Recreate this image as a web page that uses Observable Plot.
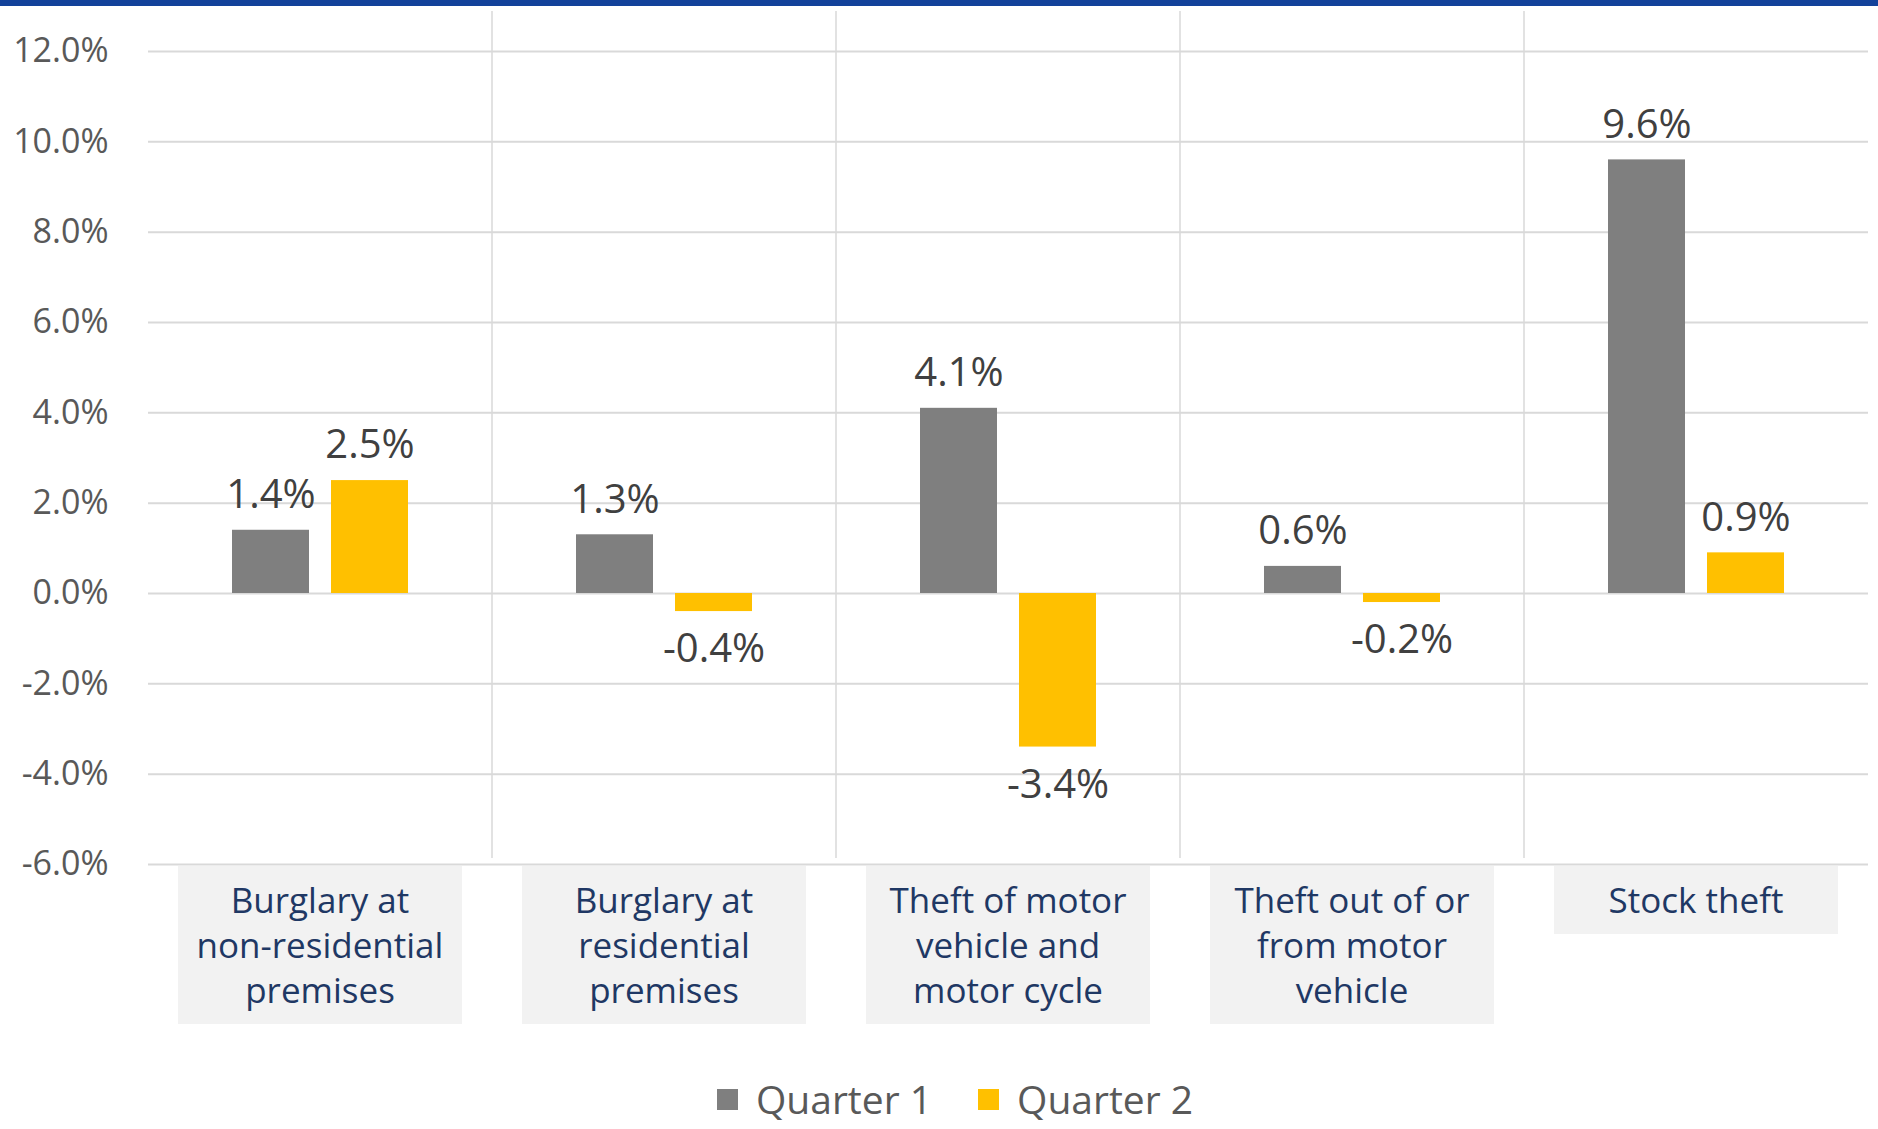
<!DOCTYPE html>
<html>
<head>
<meta charset="utf-8">
<script src="https://cdn.jsdelivr.net/npm/d3@7"></script>
<script src="https://cdn.jsdelivr.net/npm/@observablehq/plot@0.6"></script>
<style>
  html, body { margin: 0; padding: 0; background: #fff; }
  #wrap { position: relative; width: 1878px; height: 1129px; overflow: hidden; font-family: "Segoe UI", "Open Sans", sans-serif; }
  #topbar { position: absolute; left: 0; top: 0; width: 1878px; height: 6px; background: #13429a; }
  #chart { position: absolute; left: 0; top: 0; }
  .catbox { position: absolute; top: 866px; box-sizing: border-box; min-width: 284px; padding: 11px 16px 12px;
            background: #f2f2f2; color: #1f3864; font-size: 35px; line-height: 45px; text-align: center;
            transform: translateX(-50%); white-space: pre; }
  #legend { position: absolute; top: 1078px; left: 717px; display: flex; align-items: center; color: #595959; font-size: 39px; line-height: 42px; }
  .lg-item { display: flex; align-items: center; margin-right: 46px; }
  .lg-sw { width: 21px; height: 21px; margin-right: 18px; }
</style>
</head>
<body>
<div id="wrap">
  <div id="chart"></div>
  <div id="topbar"></div>
  <div id="legend"></div>
</div>
<script>
const categories = [
  "Burglary at non-residential premises",
  "Burglary at residential premises",
  "Theft of motor vehicle and motor cycle",
  "Theft out of or from motor vehicle",
  "Stock theft"
];
const categoryLines = [
  "Burglary at\nnon-residential\npremises",
  "Burglary at\nresidential\npremises",
  "Theft of motor\nvehicle and\nmotor cycle",
  "Theft out of or\nfrom motor\nvehicle",
  "Stock theft"
];
const series = ["Quarter 1", "Quarter 2"];
const quarter1 = [1.4, 1.3, 4.1, 0.6, 9.6];
const quarter2 = [2.5, -0.4, -3.4, -0.2, 0.9];
const yTicks = [-6, -4, -2, 0, 2, 4, 6, 8, 10, 12];
const colors = ["#7f7f7f", "#ffc000"];

const rows = [];
categories.forEach((c, i) => {
  rows.push({category: c, quarter: series[0], value: quarter1[i]});
  rows.push({category: c, quarter: series[1], value: quarter2[i]});
});
const fmt = v => v.toFixed(1) + "%";

const plot = Plot.plot({
  width: 1878,
  height: 870,
  marginLeft: 148,
  marginRight: 10,
  marginTop: 51,
  marginBottom: 6,
  style: {fontFamily: '"Segoe UI", "Open Sans", sans-serif', fontSize: "34px", color: "#595959", background: "transparent", overflow: "visible"},
  fx: {domain: categories, padding: 0, axis: null},
  x: {domain: series, paddingInner: 0.222, paddingOuter: 0.848, axis: null},
  y: {domain: [-6, 12], ticks: yTicks, tickFormat: fmt, tickSize: 0, tickPadding: 40, label: null},
  color: {domain: series, range: colors},
  marks: [
    Plot.ruleY(yTicks, {stroke: "#d9d9d9", strokeWidth: 2}),
    Plot.barY(rows, {fx: "category", x: "quarter", y: "value", fill: "quarter"}),
    Plot.text(rows.filter(d => d.value >= 0), {fx: "category", x: "quarter", y: "value", text: d => fmt(d.value), dy: -35, fontSize: 40, fill: "#404040"}),
    Plot.text(rows.filter(d => d.value < 0), {fx: "category", x: "quarter", y: "value", text: d => fmt(d.value), dy: 38, fontSize: 40, fill: "#404040"})
  ]
});
document.getElementById("chart").appendChild(plot);

// vertical separators between category bands, from the fx scale
const fx = plot.scale("fx");
const yS = plot.scale("y");
const ns = "http://www.w3.org/2000/svg";
const svg = plot.tagName.toLowerCase() === "svg" ? plot : plot.querySelector("svg");
const topY = 11;
const botY = yS.apply(-6) - 6;
categories.slice(1).forEach(c => {
  const x = fx.apply(c);
  const ln = document.createElementNS(ns, "line");
  ln.setAttribute("x1", x); ln.setAttribute("x2", x);
  ln.setAttribute("y1", topY); ln.setAttribute("y2", botY);
  ln.setAttribute("stroke", "#d9d9d9"); ln.setAttribute("stroke-width", 1.5);
  svg.insertBefore(ln, svg.firstChild.nextSibling);
});

// category label boxes
const wrap = document.getElementById("wrap");
categories.forEach((c, i) => {
  const d = document.createElement("div");
  d.className = "catbox";
  d.textContent = categoryLines[i];
  d.style.left = (fx.apply(c) + fx.bandwidth / 2) + "px";
  wrap.appendChild(d);
});

// legend
const lg = document.getElementById("legend");
series.forEach((s, i) => {
  const it = document.createElement("div");
  it.className = "lg-item";
  const sw = document.createElement("div");
  sw.className = "lg-sw";
  sw.style.background = colors[i];
  const t = document.createElement("span");
  t.textContent = s;
  it.appendChild(sw); it.appendChild(t);
  lg.appendChild(it);
});
</script>
</body>
</html>
